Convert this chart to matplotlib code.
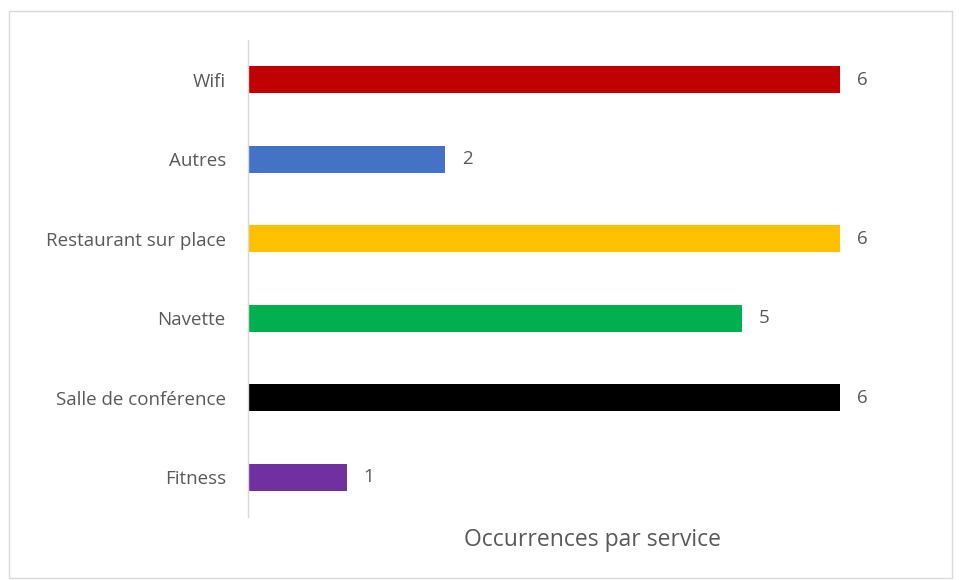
import matplotlib
matplotlib.use("Agg")
import matplotlib.pyplot as plt
from matplotlib.patches import Rectangle

categories = ["Fitness", "Salle de conférence", "Navette", "Restaurant sur place", "Autres", "Wifi"]
values = [1, 6, 5, 6, 2, 6]
colors = ["#7030A0", "#000000", "#00B050", "#FFC000", "#4472C4", "#C00000"]
xlabel = "Occurrences par service"

W, H = 959, 580
fig = plt.figure(figsize=(W / 100, H / 100), dpi=100)
plt.rcParams['font.family'] = ['Open Sans', 'DejaVu Sans']

# frame
fig.patches.append(Rectangle((9 / W, 1 - 578 / H), 943 / W, 567 / H, transform=fig.transFigure,
                             fill=False, edgecolor="#D9D9D9", linewidth=1.0))

left, right, top, bottom = 248, 939, 40, 517
ax = fig.add_axes([left / W, 1 - bottom / H, (right - left) / W, (bottom - top) / H])
y = list(range(len(categories)))
ax.barh(y, values, height=0.34, color=colors)
ax.set_ylim(-0.5, len(categories) - 0.5)
ax.set_xlim(0, 7)
ax.set_yticks(y)
ax.set_yticklabels(categories, fontsize=13.5, color="#595959")
ax.tick_params(axis='y', length=0, pad=16)
ax.set_xticks([])
for s in ["top", "right", "bottom"]:
    ax.spines[s].set_visible(False)
ax.spines["left"].set_color("#D9D9D9")
ax.spines["left"].set_linewidth(1.0)

for yi, v in zip(y, values):
    ax.annotate(str(v), (v, yi), xytext=(17, 0), textcoords="offset pixels",
                va="center", ha="left", fontsize=13.5, color="#595959")

fig.text(592 / W, 1 - 540 / H, xlabel, ha="center", va="center", fontsize=16.5, color="#595959")

fig.savefig("out.png", dpi=100, facecolor="white")
